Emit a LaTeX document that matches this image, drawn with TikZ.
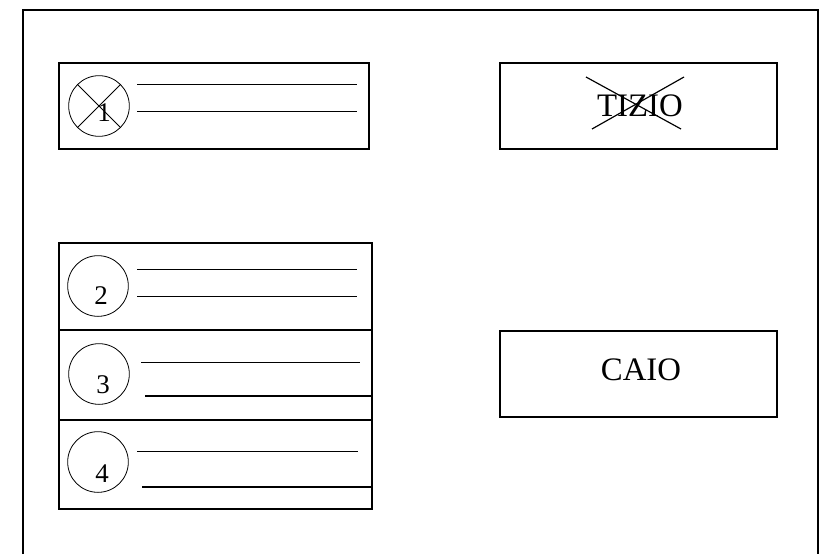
\documentclass[tikz,border=0pt]{standalone}
\usepackage{fontspec}
\setmainfont{Liberation Serif}
\usetikzlibrary{positioning}

\tikzset{
  panel/.style={draw,line width=1.6pt,anchor=north west,inner sep=0pt},
  ring/.style={draw,circle,line width=0.7pt,minimum size=1.82cm,inner sep=0pt},
  digit/.style={font=\fontsize{23}{23}\selectfont,inner sep=0pt},
  namelabel/.style={font=\fontsize{28}{28}\selectfont,inner sep=0pt},
  thinrule/.style={line width=0.8pt},
  boldrule/.style={line width=2pt}
}

\begin{document}
\begin{tikzpicture}[x=0.03cm,y=-0.03cm]
        \useasboundingbox (0,0) rectangle (837,554);
        % frame, open at the bottom
        \draw[line width=1.6pt] (23,554) -- (23,10) -- (818,10) -- (818,554);

        % first row, crossed out
        \node[panel,minimum width=9.3cm,minimum height=2.58cm] (row1) at (58,62) {};
        \node[ring] (c1) at (99,106) {};
        \node[digit] (n1) at (104,113) {1};
        \draw[thinrule] (c1.north west) -- (c1.south east);
        \draw[thinrule] (c1.north east) -- (c1.south west);
        \draw[thinrule] (137,84) -- (357,84);
        \draw[thinrule] (137,111) -- (357,111);

        % rows 2 to 4
        \node[panel,minimum width=9.39cm,minimum height=2.61cm] (row2) at (58,242) {};
        \node[panel,minimum width=9.39cm,minimum height=2.7cm] (row3) at (58,329) {};
        \node[panel,minimum width=9.39cm,minimum height=2.67cm] (row4) at (58,419) {};
        \node[ring] (c2) at (98,286) {};
        \node[ring] (c3) at (99,374) {};
        \node[ring] (c4) at (98,462) {};
        \node[digit] (n2) at (101,296) {2};
        \node[digit] (n3) at (103,385) {3};
        \node[digit] (n4) at (102,474) {4};
        \draw[thinrule] (137,269) -- (357,269);
        \draw[thinrule] (137,296) -- (357,296);
        \draw[thinrule] (141,362) -- (360,362);
        \draw[boldrule] (145,396) -- (row3.east |- 0,396);
        \draw[thinrule] (137,451) -- (358,451);
        \draw[boldrule] (142,487) -- (row4.east |- 0,487);

        % names
        \node[panel,minimum width=8.31cm,minimum height=2.58cm] (tiziobox) at (499,62) {};
        \node[namelabel] (tizio) at (640,106) {TIZIO};
        \draw[line width=1pt] (586,77) -- (681,129);
        \draw[line width=1pt] (684,77) -- (592,129);
        \node[panel,minimum width=8.31cm,minimum height=2.58cm] (caiobox) at (499,330) {};
        \node[namelabel] (caio) at (641,370) {CAIO};
    \end{tikzpicture}
\end{document}
